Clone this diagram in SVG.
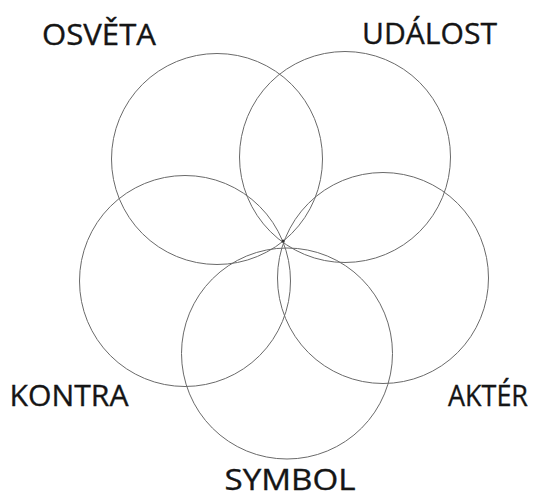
<svg xmlns="http://www.w3.org/2000/svg" width="537" height="499" viewBox="0 0 537 499">
<style>
.c{fill:none;stroke:#6a6a6a;stroke-width:1}
.t{font-family:"Open Sans","Noto Sans",sans-serif;font-size:30px;fill:#151515;stroke:#151515;stroke-width:0.35}
</style>
<rect width="537" height="499" fill="#fff"/>
<g id="circles">
<g id="osveta-circle"><circle class="c" cx="217" cy="159" r="105.5"/></g>
<g id="udalost-circle"><circle class="c" cx="345" cy="157" r="105.5"/></g>
<g id="akter-circle"><circle class="c" cx="383" cy="278" r="105.5"/></g>
<g id="kontra-circle"><circle class="c" cx="185" cy="281" r="105.5"/></g>
<g id="symbol-circle"><circle class="c" cx="287" cy="353.5" r="105.5"/></g>
</g>
<circle cx="283" cy="241" r="1.5" fill="#333"/>
<g id="labels">
<text class="t" x="42" y="44.5" textLength="114" lengthAdjust="spacingAndGlyphs">OSVĚTA</text>
<text class="t" x="362" y="43.5" textLength="135" lengthAdjust="spacingAndGlyphs">UDÁLOST</text>
<text class="t" x="9.5" y="406" textLength="119" lengthAdjust="spacingAndGlyphs">KONTRA</text>
<text class="t" x="448" y="406" textLength="80" lengthAdjust="spacingAndGlyphs">AKTÉR</text>
<text class="t" x="224.5" y="490" style="font-size:29px" textLength="131" lengthAdjust="spacingAndGlyphs">SYMBOL</text>
</g>
</svg>
